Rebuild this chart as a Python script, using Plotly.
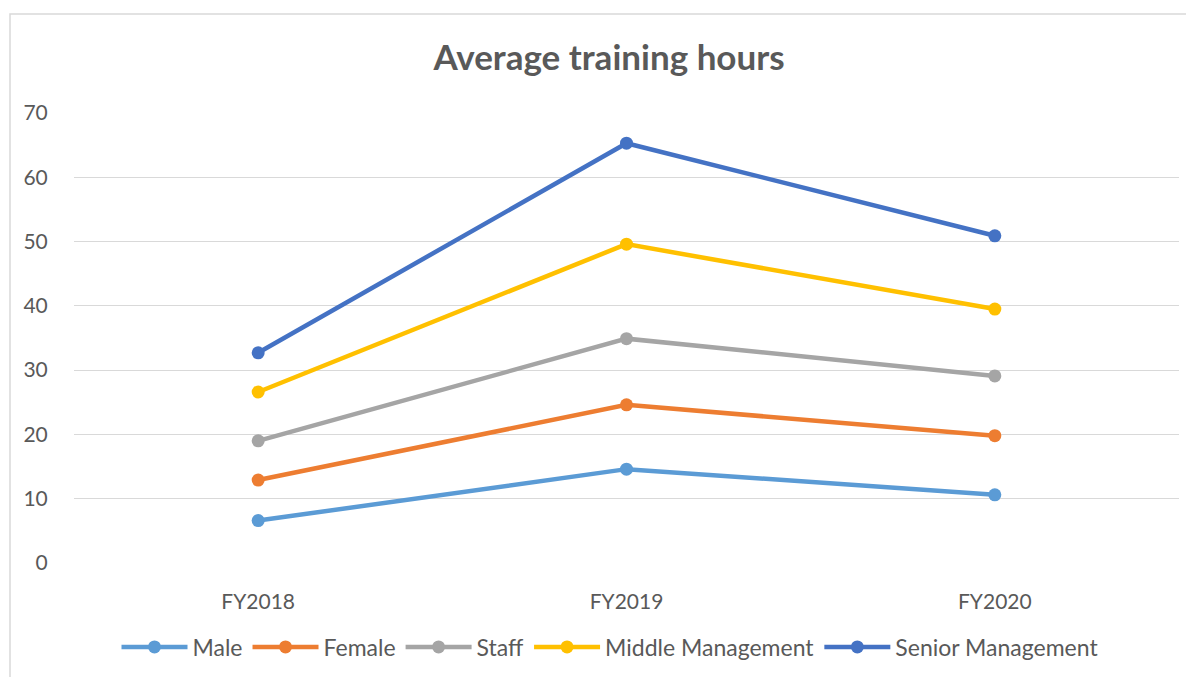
import plotly.graph_objects as go

categories = ["FY2018", "FY2019", "FY2020"]
male = [6.6, 14.6, 10.6]
female = [12.9, 24.6, 19.8]
staff = [19.0, 34.9, 29.1]
middle_mgmt = [26.6, 49.6, 39.5]
senior_mgmt = [32.7, 65.3, 50.9]

series_names = ["Male", "Female", "Staff", "Middle Management", "Senior Management"]
series_values = [male, female, staff, middle_mgmt, senior_mgmt]
colors = ["#5B9BD5", "#ED7D31", "#A5A5A5", "#FFC000", "#4472C4"]

FONT = "Lato, Open Sans, sans-serif"
TXT = "#595959"

# page body has an 8px margin; compensate
W, H = 1186, 669
L, R, T, B = 66, 15, 105, 114
PW = W - L - R
PH = H - T - B

fig = go.Figure()
for name, vals, col in zip(series_names, series_values, colors):
    fig.add_trace(go.Scatter(
        x=categories, y=vals, name=name, mode="lines+markers",
        line=dict(color=col, width=4.5),
        marker=dict(color=col, size=13),
    ))

fig.update_layout(
    width=W, height=H,
    margin=dict(l=L, r=R, t=T, b=B, autoexpand=False),
    paper_bgcolor="white", plot_bgcolor="white",
    font=dict(family=FONT, color=TXT, size=21),
    title=dict(text="<b>Average training hours</b>", x=(609 - 8) / W, xanchor="center",
               y=1 - (58 - 8) / H, yanchor="middle",
               font=dict(family=FONT, size=35, color=TXT)),
    xaxis=dict(type="category", range=[-0.5, 2.5], showgrid=False,
               showline=False, zeroline=False,
               ticks="outside", ticklen=20, tickcolor="rgba(0,0,0,0)",
               tickfont=dict(size=21, color=TXT)),
    yaxis=dict(range=[0, 70], dtick=10, showgrid=True, gridcolor="#D9D9D9",
               gridwidth=1.3, zeroline=False, showline=False,
               ticks="outside", ticklen=21, tickcolor="rgba(0,0,0,0)",
               tickfont=dict(size=21, color=TXT)),
    legend=dict(orientation="h", x=(610 - 8) / W, xanchor="center", xref="container",
                y=1 - (647 - 8) / H, yanchor="middle", yref="container",
                font=dict(size=23, color=TXT), itemwidth=66,
                bgcolor="rgba(0,0,0,0)"),
    showlegend=True,
)

fig.add_shape(type="rect", xref="paper", yref="paper",
              x0=(10 - 74) / PW, x1=1.05, y0=-0.4, y1=1 + (113 - 14) / PH,
              line=dict(color="#D9D9D9", width=1.5), fillcolor="rgba(0,0,0,0)",
              layer="below")

fig.write_html("out.html")
